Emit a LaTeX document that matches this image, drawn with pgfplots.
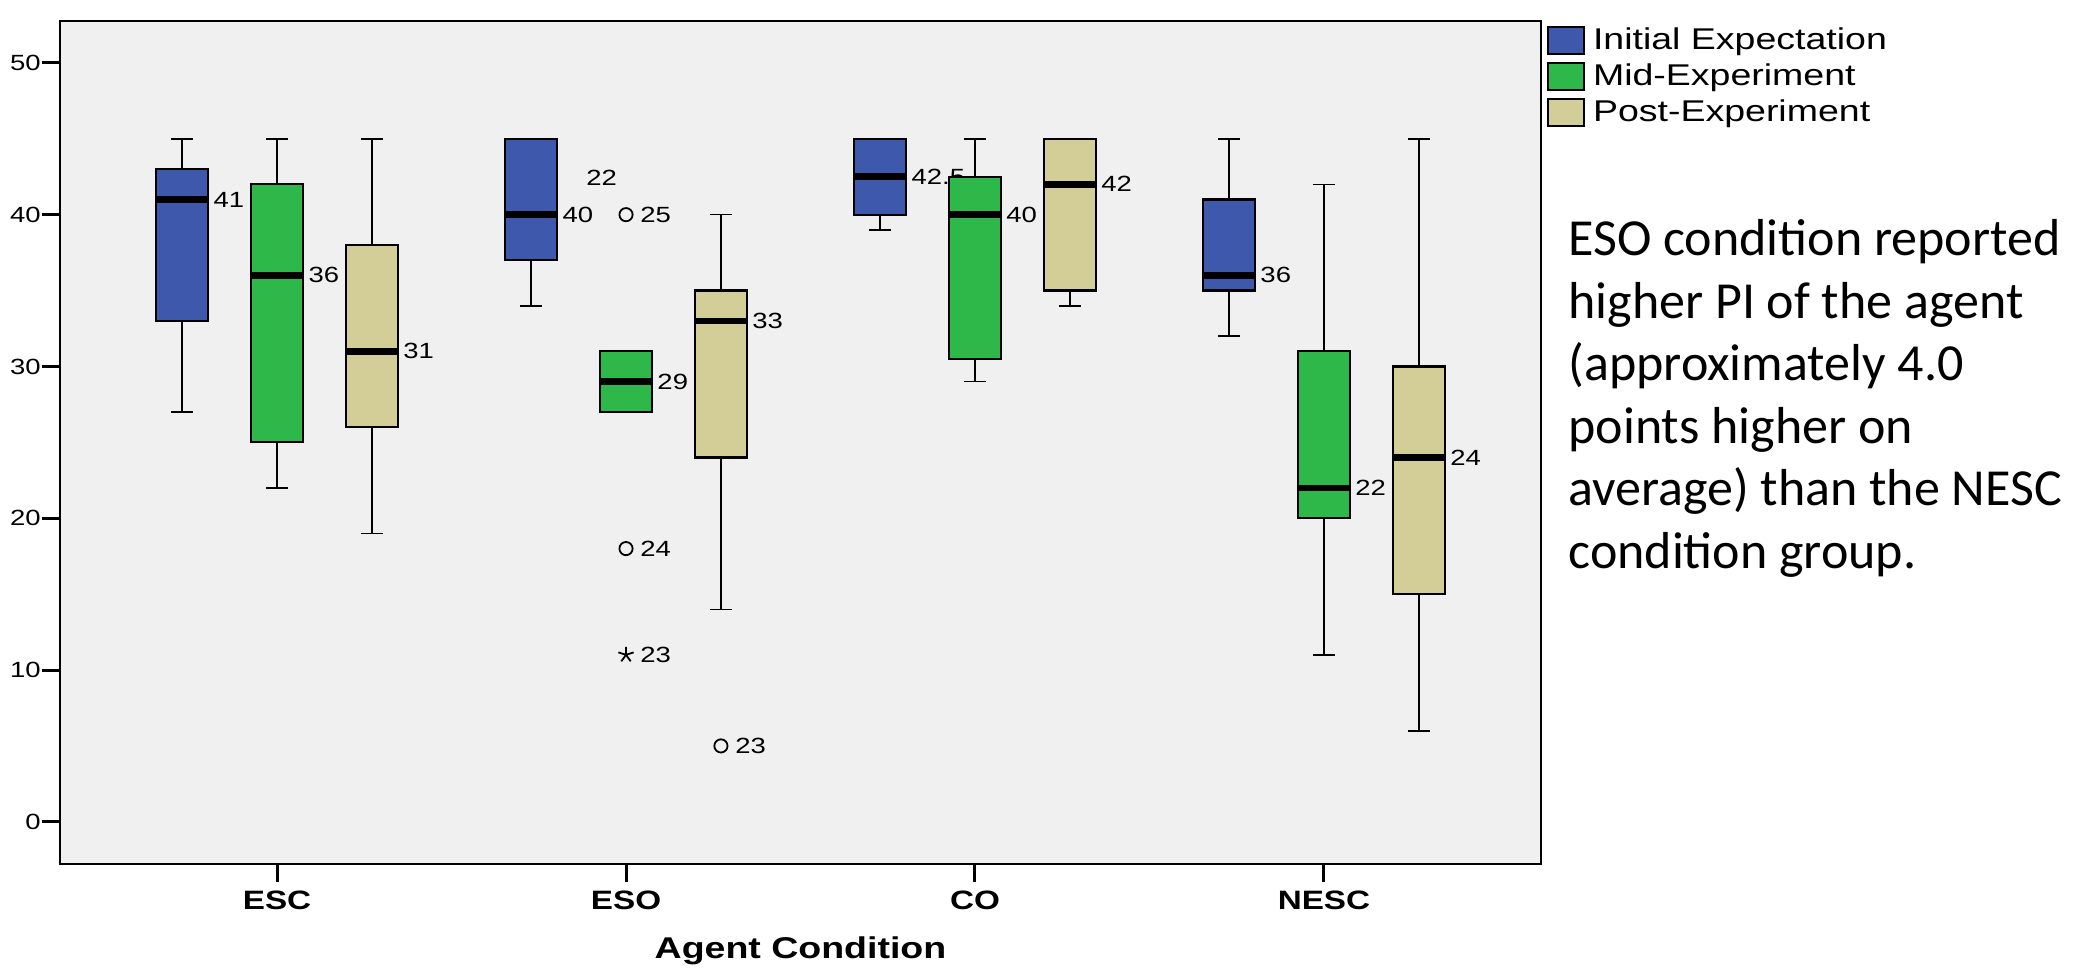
\documentclass[border=0pt]{standalone}
\usepackage{fontspec}
\setmainfont{Liberation Sans}[FakeStretch=1.25]
\newfontfamily\calibri{Carlito}
\usepackage{pgfplots}
\pgfplotsset{compat=1.18}
\definecolor{blueC}{HTML}{3E58AC}
\definecolor{greenC}{HTML}{2FB84A}
\definecolor{tanC}{HTML}{D3CE97}
\definecolor{bgC}{HTML}{F0F0F0}
\pgfplotsset{
  patchlegend/.style={legend image code/.code={\draw[##1] (0pt,-6.75pt) rectangle (18pt,6.75pt);}},
}
\newcommand{\lab}[3]{\node[anchor=west, inner sep=0pt, font=\fontsize{11}{11}\selectfont] at (axis cs:#1,#2) {#3};}
% #1 position, #2 lower whisker, #3 lower quartile, #4 median, #5 upper quartile, #6 upper whisker, #7 colour
\newcommand{\spssbox}[7]{%
  \pgfmathsetmacro\bxl{#1-0.0745}%
  \pgfmathsetmacro\bxr{#1+0.0745}%
  \pgfmathsetmacro\bcl{#1-0.0315}%
  \pgfmathsetmacro\bcr{#1+0.0315}%
  \edef\spssplot{%
    \noexpand\addplot[black, line width=0.8pt, forget plot] coordinates {(#1,#2) (#1,#3)};%
    \noexpand\addplot[black, line width=0.8pt, forget plot] coordinates {(#1,#5) (#1,#6)};%
    \noexpand\addplot[black, line width=0.8pt, forget plot] coordinates {(\bcl,#2) (\bcr,#2)};%
    \noexpand\addplot[black, line width=0.8pt, forget plot] coordinates {(\bcl,#6) (\bcr,#6)};%
    \noexpand\addplot[draw=black, line width=1.1pt, fill=#7, forget plot] coordinates {(\bxl,#3) (\bxr,#3) (\bxr,#5) (\bxl,#5)} -- cycle;%
    \noexpand\addplot[black, line width=3.3pt, forget plot] coordinates {(\bxl,#4) (\bxr,#4)};%
  }\spssplot}
\begin{document}
\begin{tikzpicture}
\useasboundingbox (0,0) rectangle (1046.5pt,484.5pt);
\begin{axis}[
  at={(30pt,52.5pt)}, anchor=south west,
  width=740.5pt, height=421.5pt, scale only axis,
  xmin=0.378, xmax=4.622, ymin=-2.78, ymax=52.76,
  xtick={1,2,3,4}, xticklabels={ESC,ESO,CO,NESC},
  ytick={0,10,20,30,40,50},
  xtick pos=bottom, ytick pos=left,
  tick align=outside, major tick length=9pt,
  major tick style={black, line width=1.5pt},
  axis line style={black, line width=1pt},
  axis background/.style={fill=bgC},
  /pgf/number format/assume math mode=true,
  yticklabel style={font=\fontsize{11}{11}\selectfont, inner sep=0.5pt},
  xticklabel style={font=\bfseries\fontsize{13.3}{13.3}\selectfont, inner sep=0pt, yshift=-4.5pt},
  xlabel={Agent Condition},
  xlabel style={at={(axis description cs:0.5,0)}, anchor=base, yshift=-47pt, inner sep=0pt, font=\bfseries\fontsize{15}{15}\selectfont},
  legend style={at={(1,1)}, anchor=north west, xshift=3pt, yshift=-2.5pt, draw=none, fill=none,
    inner sep=0pt, outer sep=0pt, row sep=3.5pt, font=\fontsize{15}{15}\selectfont,
    nodes={inner sep=0.5pt},
    /tikz/every odd column/.append style={column sep=3.5pt}},
  legend cell align=left,
]
\addlegendimage{patchlegend, fill=blueC, draw=black, line width=1pt}
\addlegendentry{Initial Expectation}
\addlegendimage{patchlegend, fill=greenC, draw=black, line width=1pt}
\addlegendentry{Mid-Experiment}
\addlegendimage{patchlegend, fill=tanC, draw=black, line width=1pt}
\addlegendentry{Post-Experiment}

% ESC
\spssbox{0.728}{27}{33}{41}{43}{45}{blueC}
\spssbox{1}{22}{25}{36}{42}{45}{greenC}
\spssbox{1.272}{19}{26}{31}{38}{45}{tanC}
% ESO
\spssbox{1.728}{34}{37}{40}{45}{45}{blueC}
\spssbox{2}{27}{27}{29}{31}{31}{greenC}
\spssbox{2.272}{14}{24}{33}{35}{40}{tanC}
% CO
\spssbox{2.728}{39}{40}{42.5}{45}{45}{blueC}
\lab{2.817}{42.5}{42.5}
\spssbox{3}{29}{30.5}{40}{42.5}{45}{greenC}
\spssbox{3.272}{34}{35}{42}{45}{45}{tanC}
% NESC
\spssbox{3.728}{32}{35}{36}{41}{45}{blueC}
\spssbox{4}{11}{20}{22}{31}{42}{greenC}
\spssbox{4.272}{6}{15}{24}{30}{45}{tanC}

% outliers
\addplot[only marks, forget plot, mark=o, mark size=3.3pt, black, line width=0.9pt] coordinates {(2,40) (2,18) (2.272,5)};
\addplot[only marks, forget plot, mark=star, mark size=4pt, black, line width=0.9pt] coordinates {(2,11)};

% labels
\lab{0.817}{41}{41}
\lab{1.089}{36}{36}
\lab{1.361}{31}{31}
\lab{1.817}{40}{40}
\lab{2.089}{29}{29}
\lab{2.361}{33}{33}
\lab{3.089}{40}{40}
\lab{3.361}{42}{42}
\lab{3.817}{36}{36}
\lab{4.089}{22}{22}
\lab{4.361}{24}{24}
\lab{1.885}{42.4}{22}
\lab{2.040}{40}{25}
\lab{2.040}{18}{24}
\lab{2.040}{11}{23}
\lab{2.312}{5}{23}
\end{axis}
\begin{scope}[every node/.style={anchor=base west, inner sep=0pt, font=\calibri\fontsize{26}{26}\selectfont}]
\node at (784pt,356.5pt) {ESO condition reported};
\node at (784pt,325.25pt) {higher PI of the agent};
\node at (784pt,294pt) {(approximately 4.0};
\node at (784pt,262.75pt) {points higher on};
\node at (784pt,231.5pt) {average) than the NESC};
\node at (784pt,200.25pt) {condition group.};
\end{scope}
\end{tikzpicture}
\end{document}
